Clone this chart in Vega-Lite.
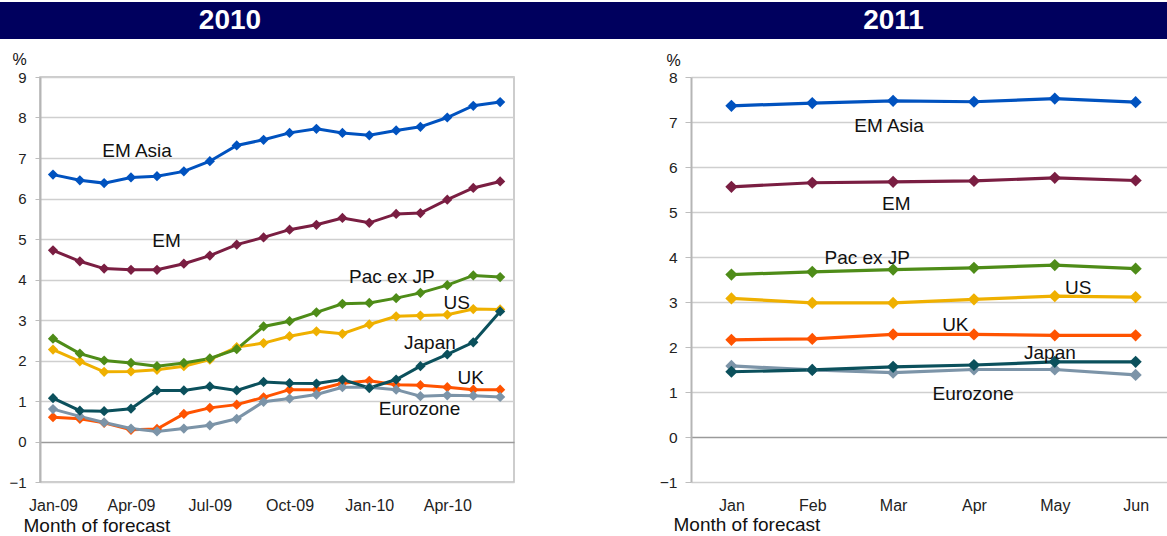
{
  "$schema": "https://vega.github.io/schema/vega-lite/v6.json",
  "padding": {"left": 0, "top": 2, "right": 0, "bottom": 0},
  "background": "white",
  "config": {
    "font": "Liberation Sans",
    "view": {"stroke": null},
    "axis": {"labelFont": "Liberation Sans", "titleFont": "Liberation Sans", "labelColor": "#222222", "titleColor": "#111111"},
    "concat": {"spacing": 0}
  },
  "datasets": {
    "left": [
      {"series": "UK", "month": "2009-01-01", "value": 0.60},
      {"series": "UK", "month": "2009-02-01", "value": 0.56},
      {"series": "UK", "month": "2009-03-01", "value": 0.46},
      {"series": "UK", "month": "2009-04-01", "value": 0.29},
      {"series": "UK", "month": "2009-05-01", "value": 0.31},
      {"series": "UK", "month": "2009-06-01", "value": 0.68},
      {"series": "UK", "month": "2009-07-01", "value": 0.83},
      {"series": "UK", "month": "2009-08-01", "value": 0.91},
      {"series": "UK", "month": "2009-09-01", "value": 1.09},
      {"series": "UK", "month": "2009-10-01", "value": 1.28},
      {"series": "UK", "month": "2009-11-01", "value": 1.28},
      {"series": "UK", "month": "2009-12-01", "value": 1.44},
      {"series": "UK", "month": "2010-01-01", "value": 1.50},
      {"series": "UK", "month": "2010-02-01", "value": 1.40},
      {"series": "UK", "month": "2010-03-01", "value": 1.39},
      {"series": "UK", "month": "2010-04-01", "value": 1.34},
      {"series": "UK", "month": "2010-05-01", "value": 1.28},
      {"series": "UK", "month": "2010-06-01", "value": 1.28},
      {"series": "Eurozone", "month": "2009-01-01", "value": 0.80},
      {"series": "Eurozone", "month": "2009-02-01", "value": 0.62},
      {"series": "Eurozone", "month": "2009-03-01", "value": 0.47},
      {"series": "Eurozone", "month": "2009-04-01", "value": 0.32},
      {"series": "Eurozone", "month": "2009-05-01", "value": 0.25},
      {"series": "Eurozone", "month": "2009-06-01", "value": 0.32},
      {"series": "Eurozone", "month": "2009-07-01", "value": 0.40},
      {"series": "Eurozone", "month": "2009-08-01", "value": 0.56},
      {"series": "Eurozone", "month": "2009-09-01", "value": 0.98},
      {"series": "Eurozone", "month": "2009-10-01", "value": 1.06},
      {"series": "Eurozone", "month": "2009-11-01", "value": 1.16},
      {"series": "Eurozone", "month": "2009-12-01", "value": 1.34},
      {"series": "Eurozone", "month": "2010-01-01", "value": 1.34},
      {"series": "Eurozone", "month": "2010-02-01", "value": 1.28},
      {"series": "Eurozone", "month": "2010-03-01", "value": 1.12},
      {"series": "Eurozone", "month": "2010-04-01", "value": 1.14},
      {"series": "Eurozone", "month": "2010-05-01", "value": 1.13},
      {"series": "Eurozone", "month": "2010-06-01", "value": 1.10},
      {"series": "US", "month": "2009-01-01", "value": 2.27},
      {"series": "US", "month": "2009-02-01", "value": 1.98},
      {"series": "US", "month": "2009-03-01", "value": 1.72},
      {"series": "US", "month": "2009-04-01", "value": 1.73},
      {"series": "US", "month": "2009-05-01", "value": 1.77},
      {"series": "US", "month": "2009-06-01", "value": 1.86},
      {"series": "US", "month": "2009-07-01", "value": 2.02},
      {"series": "US", "month": "2009-08-01", "value": 2.33},
      {"series": "US", "month": "2009-09-01", "value": 2.43},
      {"series": "US", "month": "2009-10-01", "value": 2.60},
      {"series": "US", "month": "2009-11-01", "value": 2.72},
      {"series": "US", "month": "2009-12-01", "value": 2.66},
      {"series": "US", "month": "2010-01-01", "value": 2.89},
      {"series": "US", "month": "2010-02-01", "value": 3.09},
      {"series": "US", "month": "2010-03-01", "value": 3.11},
      {"series": "US", "month": "2010-04-01", "value": 3.13},
      {"series": "US", "month": "2010-05-01", "value": 3.27},
      {"series": "US", "month": "2010-06-01", "value": 3.26},
      {"series": "Pac ex JP", "month": "2009-01-01", "value": 2.54},
      {"series": "Pac ex JP", "month": "2009-02-01", "value": 2.17},
      {"series": "Pac ex JP", "month": "2009-03-01", "value": 2.00},
      {"series": "Pac ex JP", "month": "2009-04-01", "value": 1.94},
      {"series": "Pac ex JP", "month": "2009-05-01", "value": 1.86},
      {"series": "Pac ex JP", "month": "2009-06-01", "value": 1.94},
      {"series": "Pac ex JP", "month": "2009-07-01", "value": 2.05},
      {"series": "Pac ex JP", "month": "2009-08-01", "value": 2.28},
      {"series": "Pac ex JP", "month": "2009-09-01", "value": 2.84},
      {"series": "Pac ex JP", "month": "2009-10-01", "value": 2.97},
      {"series": "Pac ex JP", "month": "2009-11-01", "value": 3.19},
      {"series": "Pac ex JP", "month": "2009-12-01", "value": 3.40},
      {"series": "Pac ex JP", "month": "2010-01-01", "value": 3.42},
      {"series": "Pac ex JP", "month": "2010-02-01", "value": 3.54},
      {"series": "Pac ex JP", "month": "2010-03-01", "value": 3.67},
      {"series": "Pac ex JP", "month": "2010-04-01", "value": 3.86},
      {"series": "Pac ex JP", "month": "2010-05-01", "value": 4.10},
      {"series": "Pac ex JP", "month": "2010-06-01", "value": 4.06},
      {"series": "Japan", "month": "2009-01-01", "value": 1.07},
      {"series": "Japan", "month": "2009-02-01", "value": 0.76},
      {"series": "Japan", "month": "2009-03-01", "value": 0.75},
      {"series": "Japan", "month": "2009-04-01", "value": 0.81},
      {"series": "Japan", "month": "2009-05-01", "value": 1.26},
      {"series": "Japan", "month": "2009-06-01", "value": 1.26},
      {"series": "Japan", "month": "2009-07-01", "value": 1.36},
      {"series": "Japan", "month": "2009-08-01", "value": 1.26},
      {"series": "Japan", "month": "2009-09-01", "value": 1.47},
      {"series": "Japan", "month": "2009-10-01", "value": 1.44},
      {"series": "Japan", "month": "2009-11-01", "value": 1.43},
      {"series": "Japan", "month": "2009-12-01", "value": 1.53},
      {"series": "Japan", "month": "2010-01-01", "value": 1.32},
      {"series": "Japan", "month": "2010-02-01", "value": 1.53},
      {"series": "Japan", "month": "2010-03-01", "value": 1.86},
      {"series": "Japan", "month": "2010-04-01", "value": 2.15},
      {"series": "Japan", "month": "2010-05-01", "value": 2.45},
      {"series": "Japan", "month": "2010-06-01", "value": 3.21},
      {"series": "EM", "month": "2009-01-01", "value": 4.72},
      {"series": "EM", "month": "2009-02-01", "value": 4.45},
      {"series": "EM", "month": "2009-03-01", "value": 4.27},
      {"series": "EM", "month": "2009-04-01", "value": 4.24},
      {"series": "EM", "month": "2009-05-01", "value": 4.24},
      {"series": "EM", "month": "2009-06-01", "value": 4.39},
      {"series": "EM", "month": "2009-07-01", "value": 4.59},
      {"series": "EM", "month": "2009-08-01", "value": 4.86},
      {"series": "EM", "month": "2009-09-01", "value": 5.04},
      {"series": "EM", "month": "2009-10-01", "value": 5.23},
      {"series": "EM", "month": "2009-11-01", "value": 5.35},
      {"series": "EM", "month": "2009-12-01", "value": 5.52},
      {"series": "EM", "month": "2010-01-01", "value": 5.40},
      {"series": "EM", "month": "2010-02-01", "value": 5.62},
      {"series": "EM", "month": "2010-03-01", "value": 5.64},
      {"series": "EM", "month": "2010-04-01", "value": 5.97},
      {"series": "EM", "month": "2010-05-01", "value": 6.26},
      {"series": "EM", "month": "2010-06-01", "value": 6.42},
      {"series": "EM Asia", "month": "2009-01-01", "value": 6.59},
      {"series": "EM Asia", "month": "2009-02-01", "value": 6.45},
      {"series": "EM Asia", "month": "2009-03-01", "value": 6.38},
      {"series": "EM Asia", "month": "2009-04-01", "value": 6.52},
      {"series": "EM Asia", "month": "2009-05-01", "value": 6.55},
      {"series": "EM Asia", "month": "2009-06-01", "value": 6.67},
      {"series": "EM Asia", "month": "2009-07-01", "value": 6.92},
      {"series": "EM Asia", "month": "2009-08-01", "value": 7.31},
      {"series": "EM Asia", "month": "2009-09-01", "value": 7.45},
      {"series": "EM Asia", "month": "2009-10-01", "value": 7.62},
      {"series": "EM Asia", "month": "2009-11-01", "value": 7.72},
      {"series": "EM Asia", "month": "2009-12-01", "value": 7.62},
      {"series": "EM Asia", "month": "2010-01-01", "value": 7.56},
      {"series": "EM Asia", "month": "2010-02-01", "value": 7.68},
      {"series": "EM Asia", "month": "2010-03-01", "value": 7.77},
      {"series": "EM Asia", "month": "2010-04-01", "value": 8.00},
      {"series": "EM Asia", "month": "2010-05-01", "value": 8.29},
      {"series": "EM Asia", "month": "2010-06-01", "value": 8.38}
    ],
    "leftLabels": [
      {"series": "EM Asia", "month": "2009-04-08", "value": 7.17},
      {"series": "EM", "month": "2009-05-12", "value": 4.94},
      {"series": "Pac ex JP", "month": "2010-01-27", "value": 4.05},
      {"series": "US", "month": "2010-04-12", "value": 3.41},
      {"series": "Japan", "month": "2010-03-12", "value": 2.42},
      {"series": "UK", "month": "2010-04-28", "value": 1.58},
      {"series": "Eurozone", "month": "2010-02-28", "value": 0.80}
    ],
    "right": [
      {"series": "UK", "month": 1, "value": 2.16},
      {"series": "UK", "month": 2, "value": 2.18},
      {"series": "UK", "month": 3, "value": 2.28},
      {"series": "UK", "month": 4, "value": 2.28},
      {"series": "UK", "month": 5, "value": 2.26},
      {"series": "UK", "month": 6, "value": 2.26},
      {"series": "Eurozone", "month": 1, "value": 1.58},
      {"series": "Eurozone", "month": 2, "value": 1.49},
      {"series": "Eurozone", "month": 3, "value": 1.43},
      {"series": "Eurozone", "month": 4, "value": 1.50},
      {"series": "Eurozone", "month": 5, "value": 1.50},
      {"series": "Eurozone", "month": 6, "value": 1.38},
      {"series": "US", "month": 1, "value": 3.08},
      {"series": "US", "month": 2, "value": 2.98},
      {"series": "US", "month": 3, "value": 2.98},
      {"series": "US", "month": 4, "value": 3.06},
      {"series": "US", "month": 5, "value": 3.13},
      {"series": "US", "month": 6, "value": 3.11},
      {"series": "Pac ex JP", "month": 1, "value": 3.61},
      {"series": "Pac ex JP", "month": 2, "value": 3.67},
      {"series": "Pac ex JP", "month": 3, "value": 3.72},
      {"series": "Pac ex JP", "month": 4, "value": 3.76},
      {"series": "Pac ex JP", "month": 5, "value": 3.82},
      {"series": "Pac ex JP", "month": 6, "value": 3.74},
      {"series": "Japan", "month": 1, "value": 1.45},
      {"series": "Japan", "month": 2, "value": 1.49},
      {"series": "Japan", "month": 3, "value": 1.56},
      {"series": "Japan", "month": 4, "value": 1.60},
      {"series": "Japan", "month": 5, "value": 1.67},
      {"series": "Japan", "month": 6, "value": 1.67},
      {"series": "EM", "month": 1, "value": 5.56},
      {"series": "EM", "month": 2, "value": 5.65},
      {"series": "EM", "month": 3, "value": 5.67},
      {"series": "EM", "month": 4, "value": 5.69},
      {"series": "EM", "month": 5, "value": 5.76},
      {"series": "EM", "month": 6, "value": 5.70},
      {"series": "EM Asia", "month": 1, "value": 7.36},
      {"series": "EM Asia", "month": 2, "value": 7.42},
      {"series": "EM Asia", "month": 3, "value": 7.47},
      {"series": "EM Asia", "month": 4, "value": 7.45},
      {"series": "EM Asia", "month": 5, "value": 7.52},
      {"series": "EM Asia", "month": 6, "value": 7.44}
    ],
    "rightLabels": [
      {"series": "EM Asia", "month": 2.95, "value": 6.91},
      {"series": "EM", "month": 3.04, "value": 5.18},
      {"series": "Pac ex JP", "month": 2.68, "value": 3.98},
      {"series": "US", "month": 5.29, "value": 3.31},
      {"series": "UK", "month": 3.77, "value": 2.49},
      {"series": "Japan", "month": 4.94, "value": 1.87},
      {"series": "Eurozone", "month": 3.99, "value": 0.96}
    ]
  },
  "vconcat": [
    {
      "hconcat": [
        {
          "width": 460, "height": 37,
          "view": {"fill": "#00005E", "stroke": null},
          "data": {"values": [{"year": "2010"}]},
          "mark": {"type": "text", "color": "white", "font": "Liberation Sans", "fontSize": 28, "fontWeight": "bold", "baseline": "middle"},
          "encoding": {"text": {"field": "year"}}
        },
        {
          "width": 160, "height": 37,
          "view": {"fill": "#00005E", "stroke": null},
          "data": {"values": []},
          "mark": "text",
          "encoding": {}
        },
        {
          "width": 547, "height": 37,
          "view": {"fill": "#00005E", "stroke": null},
          "data": {"values": [{"year": "2011"}]},
          "mark": {"type": "text", "color": "white", "font": "Liberation Sans", "fontSize": 28, "fontWeight": "bold", "baseline": "middle"},
          "encoding": {"text": {"field": "year"}}
        }
      ]
    },
    {
      "spacing": 144,
      "hconcat": [
        {
          "hconcat": [
            {"width": 8, "height": 10, "data": {"values": []}, "mark": "point", "encoding": {}},
            {
              "width": 474, "height": 405,
              "view": {"stroke": "#BDBDBD", "strokeWidth": 1.5},
              "encoding": {
                "x": {
                  "field": "month", "type": "temporal",
                  "scale": {"type": "utc", "domain": [{"year": 2008, "month": 12, "date": 17, "utc": true}, {"year": 2010, "month": 6, "date": 17, "utc": true}]},
                  "axis": {
                    "values": [
                      {"year": 2009, "month": 1, "date": 1, "utc": true},
                      {"year": 2009, "month": 4, "date": 1, "utc": true},
                      {"year": 2009, "month": 7, "date": 1, "utc": true},
                      {"year": 2009, "month": 10, "date": 1, "utc": true},
                      {"year": 2010, "month": 1, "date": 1, "utc": true},
                      {"year": 2010, "month": 4, "date": 1, "utc": true}
                    ],
                    "format": "%b-%y", "labelFontSize": 16, "labelFlush": false, "labelPadding": 15,
                    "ticks": false, "domain": false, "grid": false,
                    "title": "Month of forecast", "titleFontSize": 19, "titleFontWeight": "normal",
                    "titleAlign": "left", "titleBaseline": "alphabetic", "titleX": -17, "titleY": 49
                  }
                },
                "y": {
                  "field": "value", "type": "quantitative",
                  "scale": {"domain": [-1, 9], "nice": false},
                  "axis": {
                    "values": [-1, 0, 1, 2, 3, 4, 5, 6, 7, 8, 9],
                    "labelFontSize": 15, "labelPadding": 9, "tickSize": 5, "tickColor": "#BDBDBD",
                    "domainColor": "#B5B5B5", "domainWidth": 2,
                    "gridColor": {"condition": {"test": "datum.value === 0", "value": "#9A9A9A"}, "value": "#CFCFCF"},
                    "gridWidth": 1.3,
                    "title": "%", "titleAngle": 0, "titleFontSize": 16, "titleFontWeight": "normal",
                    "titleAlign": "center", "titleBaseline": "alphabetic", "titleX": -21, "titleY": -13
                  }
                }
              },
              "layer": [
                {
                  "data": {"name": "left"},
                  "mark": {"type": "line", "strokeWidth": 3, "point": {"shape": "diamond", "size": 105, "filled": true, "opacity": 1}},
                  "encoding": {
                    "color": {
                      "field": "series", "type": "nominal", "legend": null,
                      "scale": {
                        "domain": ["EM Asia", "EM", "Pac ex JP", "US", "Japan", "UK", "Eurozone"],
                        "range": ["#0052BF", "#7A1E42", "#4E8C18", "#EFB000", "#0B505C", "#FF5300", "#7C94A8"]
                      }
                    }
                  }
                },
                {
                  "data": {"name": "leftLabels"},
                  "mark": {"type": "text", "fontSize": 19, "color": "#111111", "baseline": "middle"},
                  "encoding": {"text": {"field": "series"}}
                }
              ]
            }
          ]
        },
        {
          "width": 481, "height": 405,
          "encoding": {
            "x": {
              "field": "month", "type": "quantitative",
              "scale": {"domain": [0.5, 6.45], "nice": false, "zero": false},
              "axis": {
                "values": [1, 2, 3, 4, 5, 6],
                "labelExpr": "['Jan','Feb','Mar','Apr','May','Jun'][datum.value - 1]",
                "labelFontSize": 16, "labelFlush": false, "labelPadding": 15,
                "ticks": false, "domain": false, "grid": false,
                "title": "Month of forecast", "titleFontSize": 19, "titleFontWeight": "normal",
                "titleAlign": "left", "titleBaseline": "alphabetic", "titleX": -18, "titleY": 48
              }
            },
            "y": {
              "field": "value", "type": "quantitative",
              "scale": {"domain": [-1, 8], "nice": false},
              "axis": {
                "values": [-1, 0, 1, 2, 3, 4, 5, 6, 7, 8],
                "labelFontSize": 15.5, "labelPadding": 8, "tickSize": 6, "tickColor": "#BDBDBD",
                "domainColor": "#B5B5B5", "domainWidth": 2,
                "gridColor": {"condition": {"test": "datum.value === 0", "value": "#9A9A9A"}, "value": "#CFCFCF"},
                "gridWidth": 1.3,
                "title": "%", "titleAngle": 0, "titleFontSize": 16, "titleFontWeight": "normal",
                "titleAlign": "center", "titleBaseline": "alphabetic", "titleX": -18, "titleY": -12
              }
            }
          },
          "layer": [
            {
              "data": {"name": "right"},
              "mark": {"type": "line", "strokeWidth": 3.2, "point": {"shape": "diamond", "size": 150, "filled": true, "opacity": 1}},
              "encoding": {
                "color": {
                  "field": "series", "type": "nominal", "legend": null,
                  "scale": {
                    "domain": ["EM Asia", "EM", "Pac ex JP", "US", "Japan", "UK", "Eurozone"],
                    "range": ["#0052BF", "#7A1E42", "#4E8C18", "#EFB000", "#0B505C", "#FF5300", "#7C94A8"]
                  }
                }
              }
            },
            {
              "data": {"name": "rightLabels"},
              "mark": {"type": "text", "fontSize": 19, "color": "#111111", "baseline": "middle"},
              "encoding": {"text": {"field": "series"}}
            }
          ]
        }
      ]
    }
  ],
  "spacing": 11
}
